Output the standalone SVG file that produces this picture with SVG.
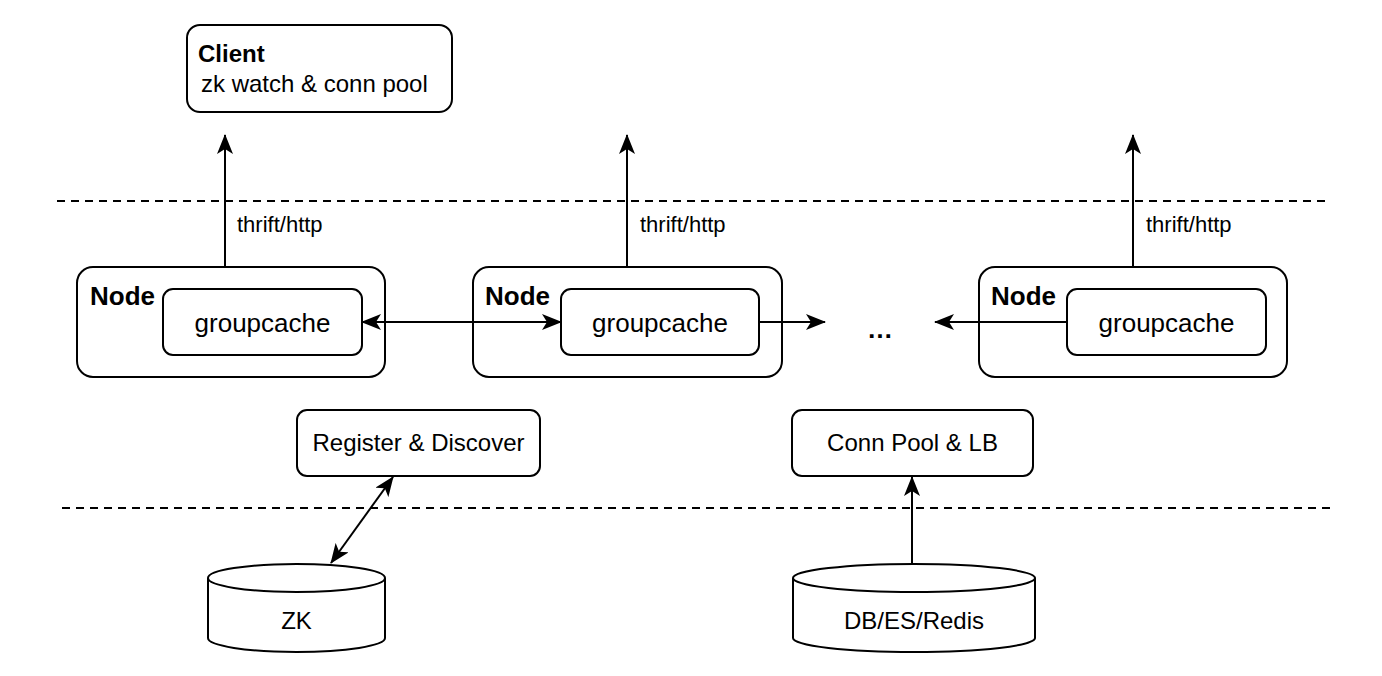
<svg xmlns="http://www.w3.org/2000/svg" width="1382" height="676" viewBox="0 0 1382 676">
<style>
.box{fill:#fff;stroke:#000;stroke-width:2}
.t{font-family:"Liberation Sans",Arial,sans-serif;fill:#000}
.c{stroke:#000;stroke-width:2;fill:none}
.d{stroke:#000;stroke-width:2;fill:none;stroke-dasharray:8 6}
</style>
<defs>
<marker id="ah" viewBox="0 0 20 16" refX="19" refY="8" markerWidth="20" markerHeight="16" markerUnits="userSpaceOnUse" orient="auto-start-reverse">
<path d="M0,0 L20,8 L0,16 L5,8 Z" fill="#000"/>
</marker>
</defs>
<rect width="1382" height="676" fill="#fff"/>
<g id="dividers">
<line class="d" x1="57" y1="201" x2="1330" y2="201"/>
<line class="d" x1="62" y1="508" x2="1336" y2="508"/>
</g>
<g id="client">
<rect class="box" x="187" y="25" width="265" height="87" rx="13"/>
<text class="t" x="198" y="62" font-size="24" font-weight="bold">Client</text>
<text class="t" x="201" y="92" font-size="24">zk watch &amp; conn pool</text>
</g>
<g id="node1">
<rect class="box" x="77" y="267" width="308" height="110" rx="16"/>
<text class="t" x="90" y="305" font-size="26" font-weight="bold">Node</text>
<rect class="box" x="163" y="289" width="199" height="66" rx="10"/>
<text class="t" x="262.5" y="332" font-size="26" text-anchor="middle">groupcache</text>
</g>
<g id="node2">
<rect class="box" x="473" y="267" width="309" height="110" rx="16"/>
<text class="t" x="485" y="305" font-size="26" font-weight="bold">Node</text>
<rect class="box" x="561" y="289" width="198" height="66" rx="10"/>
<text class="t" x="660" y="332" font-size="26" text-anchor="middle">groupcache</text>
</g>
<g id="node3">
<rect class="box" x="979" y="267" width="308" height="110" rx="16"/>
<text class="t" x="991" y="305" font-size="26" font-weight="bold">Node</text>
<rect class="box" x="1067" y="289" width="199" height="66" rx="10"/>
<text class="t" x="1166.5" y="332" font-size="26" text-anchor="middle">groupcache</text>
</g>
<g id="ellipsis">
<text class="t" x="880" y="338" font-size="26" font-weight="bold" text-anchor="middle">…</text>
</g>
<g id="register">
<rect class="box" x="297" y="410" width="243" height="66" rx="10"/>
<text class="t" x="418.5" y="451" font-size="24" text-anchor="middle">Register &amp; Discover</text>
</g>
<g id="connpool">
<rect class="box" x="792" y="410" width="241" height="66" rx="10"/>
<text class="t" x="912.5" y="451" font-size="24" text-anchor="middle">Conn Pool &amp; LB</text>
</g>
<g id="zk">
<path class="box" d="M208,578 a88.5,14 0 0 1 177,0 v60 a88.5,14 0 0 1 -177,0 Z"/>
<path class="c" d="M208,578 a88.5,14 0 0 0 177,0"/>
<text class="t" x="296.5" y="629" font-size="24" text-anchor="middle">ZK</text>
</g>
<g id="db">
<path class="box" d="M793,578 a121,14 0 0 1 242,0 v60 a121,14 0 0 1 -242,0 Z"/>
<path class="c" d="M793,578 a121,14 0 0 0 242,0"/>
<text class="t" x="914" y="629" font-size="24" text-anchor="middle">DB/ES/Redis</text>
</g>
<g id="connectors">
<line class="c" x1="225" y1="267" x2="225" y2="135" marker-end="url(#ah)"/>
<line class="c" x1="627" y1="267" x2="627" y2="135" marker-end="url(#ah)"/>
<line class="c" x1="1133" y1="267" x2="1133" y2="135" marker-end="url(#ah)"/>
<text class="t" x="237" y="232" font-size="22">thrift/http</text>
<text class="t" x="640" y="232" font-size="22">thrift/http</text>
<text class="t" x="1146" y="232" font-size="22">thrift/http</text>
<line class="c" x1="362" y1="322" x2="561" y2="322" marker-start="url(#ah)" marker-end="url(#ah)"/>
<line class="c" x1="759" y1="322" x2="825" y2="322" marker-end="url(#ah)"/>
<line class="c" x1="1067" y1="322" x2="935" y2="322" marker-end="url(#ah)"/>
<line class="c" x1="331" y1="563" x2="393" y2="477" marker-start="url(#ah)" marker-end="url(#ah)"/>
<line class="c" x1="912" y1="564" x2="912" y2="477" marker-end="url(#ah)"/>
</g>
</svg>
